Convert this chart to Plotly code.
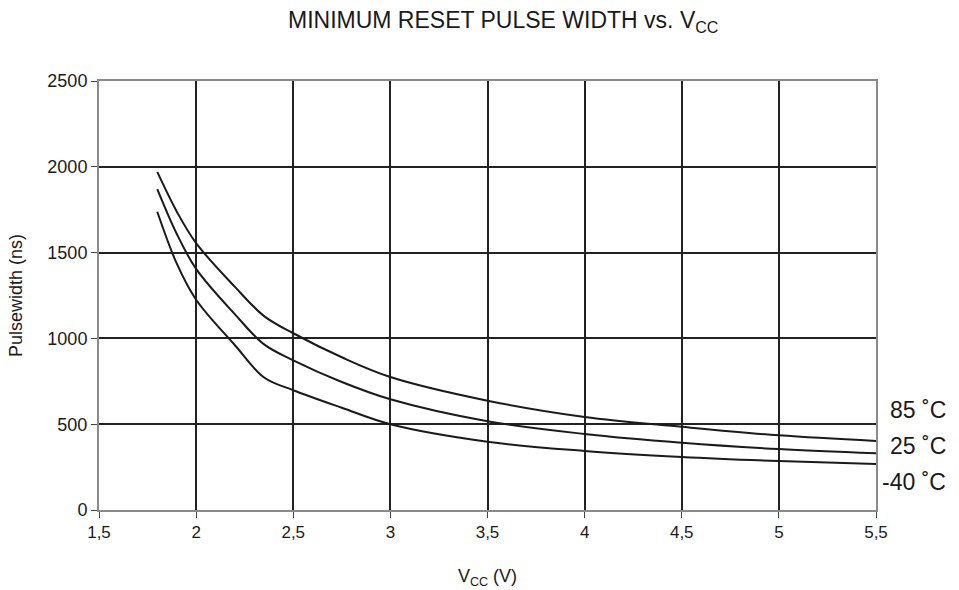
import plotly.graph_objects as go

# ─── Data ────────────────────────────────────────────────────────────────────
VCC = [1.8, 1.9, 2.0, 2.2, 2.35, 2.5, 2.75, 3.0, 3.5, 4.0, 4.5, 5.0, 5.5]

PW_85C = [1970, 1740, 1555, 1300, 1130, 1030, 890, 775, 637, 542, 485, 435, 402]
PW_25C = [1870, 1610, 1405, 1140, 965, 872, 746, 645, 517, 443, 392, 355, 330]
PW_M40C = [1738, 1437, 1225, 960, 772, 698, 596, 500, 398, 344, 309, 285, 268]

SERIES = [("85 ˚C", PW_85C), ("25 ˚C", PW_25C), ("-40 ˚C", PW_M40C)]
LABEL_Y = {"85 ˚C": 583, "25 ˚C": 373, "-40 ˚C": 163}

X_TICKS = [1.5, 2, 2.5, 3, 3.5, 4, 4.5, 5, 5.5]
X_TICKTEXT = ["1,5", "2", "2,5", "3", "3,5", "4", "4,5", "5", "5,5"]
Y_TICKS = [0, 500, 1000, 1500, 2000, 2500]

FONT = "Liberation Sans, Arial, sans-serif"
INK = "#1a1a1a"

fig = go.Figure()
for name, vals in SERIES:
    fig.add_trace(go.Scatter(
        x=VCC, y=vals, mode="lines", name=name,
        line=dict(color=INK, width=2, shape="spline", smoothing=1.0),
        showlegend=False,
    ))
    # curve labels to the right of the plot
    fig.add_annotation(
        x=1.0927, xref="paper", y=LABEL_Y[name], yref="y",
        text=name, showarrow=False, xanchor="right", yanchor="middle",
        font=dict(size=23, color=INK, family=FONT),
    )

fig.add_annotation(
    x=0.52, xref="paper", y=1.0, yref="paper", yanchor="middle", yshift=60,
    text="MINIMUM RESET PULSE WIDTH vs. V<sub>CC</sub>", showarrow=False,
    font=dict(size=23, color=INK, family=FONT),
)

fig.update_layout(
    width=959, height=590,
    margin=dict(l=99, r=83, t=81, b=80, autoexpand=False),
    paper_bgcolor="white", plot_bgcolor="white",
    font=dict(family=FONT, color=INK),
)

fig.update_xaxes(
    range=[1.5, 5.5], tickvals=X_TICKS, ticktext=X_TICKTEXT,
    showgrid=True, gridcolor="#222222", gridwidth=2,
    showline=True, linecolor="#8a8a8a", linewidth=2, mirror=True,
    ticks="outside", ticklen=6, tickcolor="#444444",
    tickfont=dict(size=17, family=FONT),
    zeroline=False, automargin=False,
    title=dict(text="V<sub>CC</sub> (V)", font=dict(size=18, family=FONT), standoff=28),
)
fig.update_yaxes(
    range=[0, 2500], tickvals=Y_TICKS,
    showgrid=True, gridcolor="#222222", gridwidth=2,
    showline=True, linecolor="#8a8a8a", linewidth=2, mirror=True,
    ticks="outside", ticklen=6, tickcolor="#444444",
    tickfont=dict(size=18, family=FONT),
    zeroline=False, automargin=False,
    title=dict(text="Pulsewidth (ns)", font=dict(size=18, family=FONT), standoff=20),
)

fig.write_html("out.html", config={"displayModeBar": False},
               post_script="document.body.style.margin='0';")
